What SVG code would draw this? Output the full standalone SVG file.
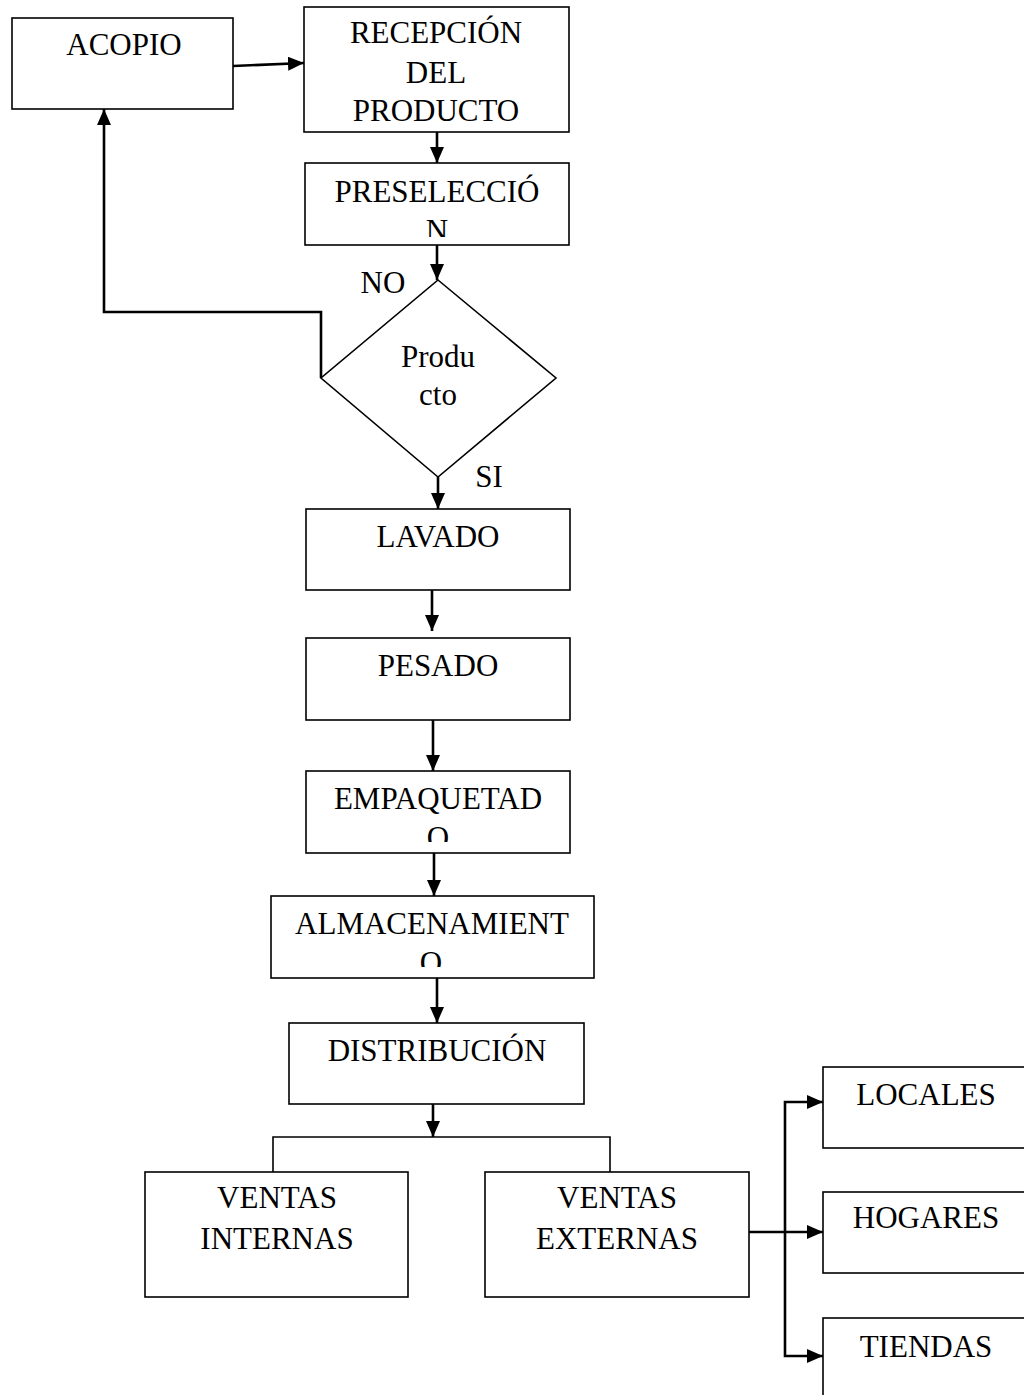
<svg xmlns="http://www.w3.org/2000/svg" width="1024" height="1395" viewBox="0 0 1024 1395">
<style>
.box{fill:#fff;stroke:#000;stroke-width:1.6}
.t{font-family:"Liberation Serif","Times New Roman",serif;font-size:31px;fill:#000;text-anchor:middle}
.c{fill:none;stroke:#000;stroke-width:2.6}
.thin{fill:none;stroke:#000;stroke-width:1.6}
</style>
<defs>
<marker id="ah" markerUnits="userSpaceOnUse" markerWidth="17" markerHeight="15" refX="16" refY="7" orient="auto">
<path d="M0,0 L16,7 L0,14 Z" fill="#000"/>
</marker>
<clipPath id="clipPre"><rect x="306" y="163" width="262" height="74"/></clipPath>
<clipPath id="clipEmp"><rect x="306" y="771" width="264" height="71"/></clipPath>
<clipPath id="clipAlm"><rect x="271" y="896" width="323" height="71"/></clipPath>
</defs>
<rect width="1024" height="1395" fill="#fff"/>

<g id="connectors">
<line class="c" x1="233" y1="66" x2="304" y2="63" marker-end="url(#ah)"/>
<line class="c" x1="437" y1="132" x2="437" y2="163" marker-end="url(#ah)"/>
<line class="c" x1="437" y1="245" x2="437" y2="280" marker-end="url(#ah)"/>
<path class="c" d="M321,378 V312 H104 V109" marker-end="url(#ah)"/>
<line class="c" x1="438" y1="477" x2="438" y2="509" marker-end="url(#ah)"/>
<line class="c" x1="432" y1="590" x2="432" y2="631" marker-end="url(#ah)"/>
<line class="c" x1="433" y1="720" x2="433" y2="771" marker-end="url(#ah)"/>
<line class="c" x1="434" y1="853" x2="434" y2="896" marker-end="url(#ah)"/>
<line class="c" x1="437" y1="978" x2="437" y2="1023" marker-end="url(#ah)"/>
<line class="c" x1="433" y1="1104" x2="433" y2="1137" marker-end="url(#ah)"/>
<path class="thin" d="M273,1172 V1137 H610 V1172"/>
<line class="c" x1="749" y1="1232" x2="823" y2="1232" marker-end="url(#ah)"/>
<path class="c" d="M785,1232 V1102 H823" marker-end="url(#ah)"/>
<path class="c" d="M785,1232 V1356 H823" marker-end="url(#ah)"/>
</g>

<g id="acopio">
<rect class="box" x="12" y="18" width="221" height="91"/>
<text class="t" x="124" y="55">ACOPIO</text>
</g>
<g id="recepcion">
<rect class="box" x="304" y="7" width="265" height="125"/>
<text class="t" x="436" y="43">RECEPCIÓN</text>
<text class="t" x="436" y="83">DEL</text>
<text class="t" x="436" y="121">PRODUCTO</text>
</g>
<g id="preseleccion">
<rect class="box" x="305" y="163" width="264" height="82"/>
<text class="t" x="437" y="202">PRESELECCIÓ</text>
<text class="t" x="437" y="241" clip-path="url(#clipPre)">N</text>
</g>
<g id="decision">
<polygon class="box" points="438,280 556,378 438,477 321,378"/>
<text class="t" x="438" y="367">Produ</text>
<text class="t" x="438" y="405">cto</text>
<text class="t" x="383" y="293">NO</text>
<text class="t" x="489" y="487">SI</text>
</g>
<g id="lavado">
<rect class="box" x="306" y="509" width="264" height="81"/>
<text class="t" x="438" y="547">LAVADO</text>
</g>
<g id="pesado">
<rect class="box" x="306" y="638" width="264" height="82"/>
<text class="t" x="438" y="676">PESADO</text>
</g>
<g id="empaquetado">
<rect class="box" x="306" y="771" width="264" height="82"/>
<text class="t" x="438" y="809">EMPAQUETAD</text>
<text class="t" x="438" y="848" clip-path="url(#clipEmp)">O</text>
</g>
<g id="almacenamiento">
<rect class="box" x="271" y="896" width="323" height="82"/>
<text class="t" x="432" y="934">ALMACENAMIENT</text>
<text class="t" x="431" y="973" clip-path="url(#clipAlm)">O</text>
</g>
<g id="distribucion">
<rect class="box" x="289" y="1023" width="295" height="81"/>
<text class="t" x="437" y="1061">DISTRIBUCIÓN</text>
</g>
<g id="ventas-internas">
<rect class="box" x="145" y="1172" width="263" height="125"/>
<text class="t" x="277" y="1208">VENTAS</text>
<text class="t" x="277" y="1249">INTERNAS</text>
</g>
<g id="ventas-externas">
<rect class="box" x="485" y="1172" width="264" height="125"/>
<text class="t" x="617" y="1208">VENTAS</text>
<text class="t" x="617" y="1249">EXTERNAS</text>
</g>
<g id="locales">
<rect class="box" x="823" y="1067" width="210" height="81"/>
<text class="t" x="926" y="1105">LOCALES</text>
</g>
<g id="hogares">
<rect class="box" x="823" y="1192" width="210" height="81"/>
<text class="t" x="926" y="1228">HOGARES</text>
</g>
<g id="tiendas">
<rect class="box" x="823" y="1318" width="210" height="90"/>
<text class="t" x="926" y="1357">TIENDAS</text>
</g>
</svg>
